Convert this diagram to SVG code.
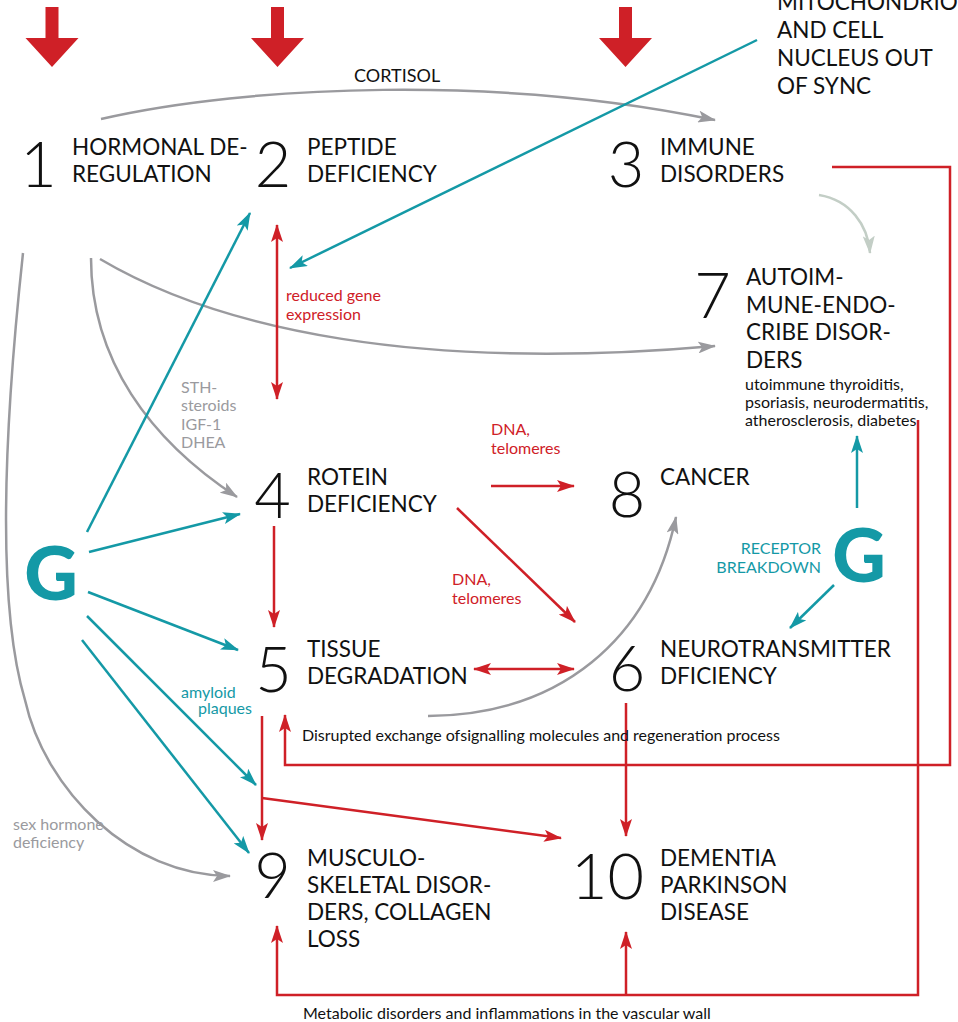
<svg xmlns="http://www.w3.org/2000/svg" width="958" height="1022" viewBox="0 0 958 1022">
<style>
text{font-family:Lato,"Liberation Sans",sans-serif;fill:#111}
.num{font-weight:300;font-size:63px;text-anchor:middle}
.hd{font-size:22.5px}
.sm{font-size:16px}
.red{fill:#cf2027}
.gray{fill:#9a9a9e}
.teal{fill:#1499a6}
.g{font-weight:900;font-size:74px;text-anchor:middle;fill:#1499a6}
.cg{fill:none;stroke:#9a9a9e;stroke-width:2.5}
.cl{fill:none;stroke:#c3cec6;stroke-width:2.5}
.ct{fill:none;stroke:#1499a6;stroke-width:2.5}
.cr{fill:none;stroke:#cf2027;stroke-width:2.5}
</style>
<defs>
<marker id="ag" viewBox="0 0 18 12" refX="17" refY="6" markerWidth="18" markerHeight="12" markerUnits="userSpaceOnUse" orient="auto-start-reverse"><path d="M0,0 L18,6 L0,12 L4,6 z" fill="#9a9a9e"/></marker>
<marker id="al" viewBox="0 0 18 12" refX="17" refY="6" markerWidth="18" markerHeight="12" markerUnits="userSpaceOnUse" orient="auto-start-reverse"><path d="M0,0 L18,6 L0,12 L4,6 z" fill="#c3cec6"/></marker>
<marker id="at" viewBox="0 0 18 12" refX="17" refY="6" markerWidth="18" markerHeight="12" markerUnits="userSpaceOnUse" orient="auto-start-reverse"><path d="M0,0 L18,6 L0,12 L4,6 z" fill="#1499a6"/></marker>
<marker id="ar" viewBox="0 0 18 12" refX="17" refY="6" markerWidth="18" markerHeight="12" markerUnits="userSpaceOnUse" orient="auto-start-reverse"><path d="M0,0 L18,6 L0,12 L4,6 z" fill="#cf2027"/></marker>
<path id="big" d="M-6.5,0 H6.5 V31 H26.5 L0,60 L-26.5,31 H-6.5 z" fill="#cf2027"/>
</defs>

<g id="top-arrows">
<use href="#big" x="52" y="7"/>
<use href="#big" x="277.5" y="7"/>
<use href="#big" x="625.5" y="7"/>
</g>

<g id="connectors">
<path class="cg" d="M101,119 C250,85 500,75 715,120" marker-end="url(#ag)"/>
<path class="cg" d="M100,259 C220,330 420,372 715,346" marker-end="url(#ag)"/>
<path class="cg" d="M91,258 C91,360 150,440 237,497" marker-end="url(#ag)"/>
<path class="cg" d="M23,253 C5,420 -5,600 25,700 C45,790 130,876 230,876" marker-end="url(#ag)"/>
<path class="cg" d="M428,716 C560,715 650,640 676,517" marker-end="url(#ag)"/>
<path class="cl" d="M819,195 C850,200 868,225 870,253" marker-end="url(#al)"/>

<path class="ct" d="M757,40 L290,268" marker-end="url(#at)"/>
<path class="ct" d="M87,532 L250,213" marker-end="url(#at)"/>
<path class="ct" d="M89,552 L240,514" marker-end="url(#at)"/>
<path class="ct" d="M88,592 L238,650" marker-end="url(#at)"/>
<path class="ct" d="M87,616 L256,785" marker-end="url(#at)"/>
<path class="ct" d="M82,640 L249,853" marker-end="url(#at)"/>
<path class="ct" d="M857,508 L857,436" marker-end="url(#at)"/>
<path class="ct" d="M834,585 L790,628" marker-end="url(#at)"/>

<path class="cr" d="M277,225 L277,399" marker-start="url(#ar)" marker-end="url(#ar)"/>
<path class="cr" d="M491,486 L574,486" marker-end="url(#ar)"/>
<path class="cr" d="M457,508 L575,622" marker-end="url(#ar)"/>
<path class="cr" d="M274,526 L274,627" marker-end="url(#ar)"/>
<path class="cr" d="M474,669 L574,669" marker-start="url(#ar)" marker-end="url(#ar)"/>
<path class="cr" d="M262,716 L262,840" marker-end="url(#ar)"/>
<path class="cr" d="M262,798 L561,838" marker-end="url(#ar)"/>
<path class="cr" d="M626,703 L626,836" marker-end="url(#ar)"/>
<path class="cr" d="M832,167 L950,167 L950,765 L285,765 L285,715" marker-end="url(#ar)"/>
<path class="cr" d="M918,420 L918,995 L277,995 L277,926" marker-end="url(#ar)"/>
<path class="cr" d="M626,995 L626,932" marker-end="url(#ar)"/>
</g>

<g id="labels">
<text class="hd" x="354" y="82" style="font-size:18px">CORTISOL</text>
<text class="sm red" x="286" y="301">reduced gene</text>
<text class="sm red" x="286" y="320">expression</text>
<text class="sm gray" x="181" y="393">STH-</text>
<text class="sm gray" x="181" y="411">steroids</text>
<text class="sm gray" x="181" y="429.5">IGF-1</text>
<text class="sm gray" x="181" y="448">DHEA</text>
<text class="sm red" x="491" y="435">DNA,</text>
<text class="sm red" x="491" y="454">telomeres</text>
<text class="sm red" x="452" y="585">DNA,</text>
<text class="sm red" x="452" y="604">telomeres</text>
<text class="sm teal" x="181" y="698">amyloid</text>
<text class="sm teal" x="198" y="714">plaques</text>
<text class="sm" x="302" y="741">Disrupted exchange ofsignalling molecules and regeneration process</text>
<text class="sm" x="303" y="1019">Metabolic disorders and inflammations in the vascular wall</text>
<text class="sm gray" x="13" y="830">sex hormone</text>
<text class="sm gray" x="13" y="848">deficiency</text>
<text class="teal" x="821" y="554" text-anchor="end" style="font-size:16px">RECEPTOR</text>
<text class="teal" x="821" y="573" text-anchor="end" style="font-size:16px">BREAKDOWN</text>
</g>

<g id="mito">
<text class="hd" x="777" y="10">MITOCHONDRIO</text>
<text class="hd" x="777" y="38">AND CELL</text>
<text class="hd" x="777" y="66">NUCLEUS OUT</text>
<text class="hd" x="777" y="94">OF SYNC</text>
</g>

<g id="G-left"><text class="g" x="51" y="600">G</text></g>
<g id="G-right"><text class="g" x="859" y="582">G</text></g>

<g id="node1">
<text class="num" x="38.5" y="187">1</text>
<text class="hd" x="72" y="155">HORMONAL DE-</text>
<text class="hd" x="72" y="182">REGULATION</text>
</g>
<g id="node2">
<text class="num" x="273" y="187">2</text>
<text class="hd" x="307" y="155">PEPTIDE</text>
<text class="hd" x="307" y="182">DEFICIENCY</text>
</g>
<g id="node3">
<text class="num" x="626" y="187">3</text>
<text class="hd" x="660" y="155">IMMUNE</text>
<text class="hd" x="660" y="182">DISORDERS</text>
</g>
<g id="node7">
<text class="num" x="712.5" y="318">7</text>
<text class="hd" x="746" y="285">AUTOIM-</text>
<text class="hd" x="746" y="312.5">MUNE-ENDO-</text>
<text class="hd" x="746" y="340">CRIBE DISOR-</text>
<text class="hd" x="746" y="367.5">DERS</text>
<text class="sm" x="745" y="390">utoimmune thyroiditis,</text>
<text class="sm" x="745" y="408">psoriasis, neurodermatitis,</text>
<text class="sm" x="745" y="426">atherosclerosis, diabetes</text>
</g>
<g id="node4">
<text class="num" x="272.5" y="518">4</text>
<text class="hd" x="307" y="485">ROTEIN</text>
<text class="hd" x="307" y="512">DEFICIENCY</text>
</g>
<g id="node8">
<text class="num" x="627" y="517">8</text>
<text class="hd" x="660" y="485">CANCER</text>
</g>
<g id="node5">
<text class="num" x="273.5" y="692">5</text>
<text class="hd" x="307" y="657">TISSUE</text>
<text class="hd" x="307" y="684">DEGRADATION</text>
</g>
<g id="node6">
<text class="num" x="627" y="691">6</text>
<text class="hd" x="660" y="657">NEUROTRANSMITTER</text>
<text class="hd" x="660" y="684">DFICIENCY</text>
</g>
<g id="node9">
<text class="num" x="272.5" y="898">9</text>
<text class="hd" x="307" y="866">MUSCULO-</text>
<text class="hd" x="307" y="893">SKELETAL DISOR-</text>
<text class="hd" x="307" y="920">DERS, COLLAGEN</text>
<text class="hd" x="307" y="947">LOSS</text>
</g>
<g id="node10">
<text class="num" x="607.5" y="899">10</text>
<text class="hd" x="660" y="866">DEMENTIA</text>
<text class="hd" x="660" y="893">PARKINSON</text>
<text class="hd" x="660" y="920">DISEASE</text>
</g>
</svg>
